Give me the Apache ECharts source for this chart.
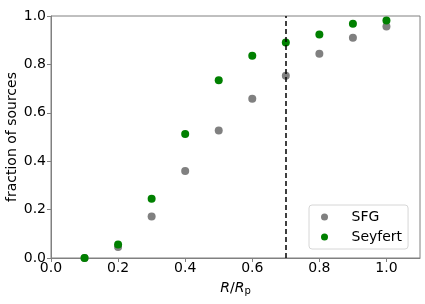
<!DOCTYPE html>
<html><head><meta charset="utf-8">
<script src="https://cdn.jsdelivr.net/npm/echarts@6/dist/echarts.min.js"></script>
<style>html,body{margin:0;padding:0;background:#fff}#c{width:425px;height:304px}</style>
</head><body><div id="c"></div>
<script>
const radii = [0.1, 0.2, 0.3, 0.4, 0.5, 0.6, 0.7, 0.8, 0.9, 1.0];
const sfgValues = [0.0, 0.045, 0.172, 0.36, 0.527, 0.658, 0.753, 0.844, 0.910, 0.957];
const seyfertValues = [0.0, 0.056, 0.245, 0.512, 0.735, 0.836, 0.891, 0.924, 0.968, 0.981];
const cutRadius = 0.7;

const font = 'DejaVu Sans';
const chart = echarts.init(document.getElementById('c'));
const spine = '#808080';
chart.setOption({
  animation: false,
  grid: {left: 51, right: 5, top: 16, bottom: 46, show: true, borderColor: spine, borderWidth: 1,
         containLabel: false, outerBoundsMode: 'none'},
  legend: {
    orient: 'vertical', left: 309, top: 205,
    backgroundColor: '#fff', borderColor: '#d6d6d6', borderWidth: 1, borderRadius: 3,
    padding: [5, 6, 5, 12], itemWidth: 18, itemHeight: 7, itemGap: 6,
    textStyle: {fontFamily: font, fontSize: 14, color: '#000', padding: [0, 0, 0, 13]},
    data: [{name: 'SFG', icon: 'circle'}, {name: 'Seyfert', icon: 'circle'}]
  },
  xAxis: {
    type: 'value', min: 0, max: 1.1, interval: 0.2,
    name: '{i|R}{n|/}{i|R}{s|p}', nameLocation: 'middle', nameGap: 22, nameMoveOverlap: false,
    nameTextStyle: {rich: {
      i: {fontFamily: font, fontSize: 14, fontStyle: 'italic', color: '#000'},
      n: {fontFamily: font, fontSize: 14, color: '#000'},
      s: {fontFamily: font, fontSize: 10, color: '#000', padding: [6, 0, 0, 0]}
    }},
    axisLine: {lineStyle: {color: spine}},
    axisTick: {length: 4, lineStyle: {color: spine}},
    splitLine: {show: false},
    axisLabel: {fontFamily: font, fontSize: 14, color: '#000', margin: 3, showMaxLabel: false,
      formatter: v => v > 1.05 ? '' : v.toFixed(1)}
  },
  yAxis: {
    type: 'value', min: 0, max: 1, interval: 0.2,
    name: 'fraction of sources', nameLocation: 'middle', nameGap: 32, nameMoveOverlap: false,
    nameTextStyle: {fontFamily: font, fontSize: 14, color: '#000'},
    axisLine: {lineStyle: {color: spine}},
    axisTick: {length: 4, lineStyle: {color: spine}},
    splitLine: {show: false},
    axisLabel: {fontFamily: font, fontSize: 14, color: '#000', margin: 5,
      formatter: v => v.toFixed(1)}
  },
  series: [
    {name: 'SFG', type: 'scatter', symbolSize: 8, itemStyle: {color: '#808080', opacity: 1},
     data: radii.map((r, i) => [r, sfgValues[i]]),
     markLine: {silent: true, symbol: 'none', label: {show: false},
       lineStyle: {color: '#000', type: [5, 3], width: 1.5},
       data: [{xAxis: cutRadius}]}},
    {name: 'Seyfert', type: 'scatter', symbolSize: 8, itemStyle: {color: '#008000', opacity: 1},
     data: radii.map((r, i) => [r, seyfertValues[i]])}
  ]
});
</script></body></html>
